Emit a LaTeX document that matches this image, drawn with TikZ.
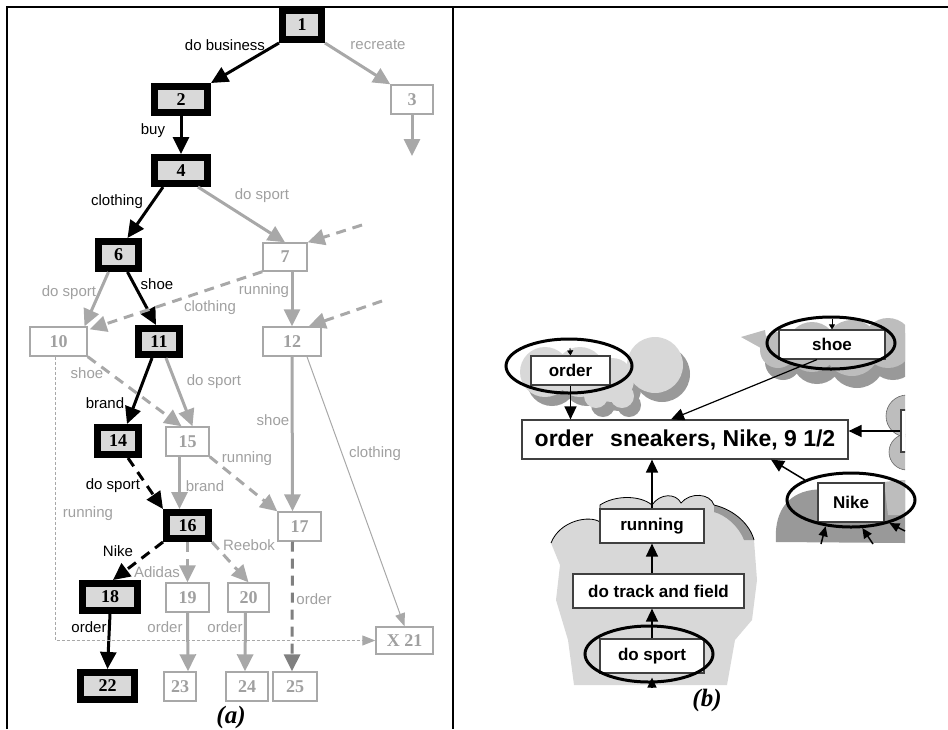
\documentclass[tikz,border=0pt]{standalone}
\usepackage{fontspec}
\setmainfont{Liberation Serif}
\setsansfont{Liberation Sans}
\usetikzlibrary{arrows.meta,calc,shapes.geometric}
\definecolor{lg}{HTML}{A8A8A8}
\definecolor{lt}{HTML}{A0A0A0}
\definecolor{bfill}{HTML}{D9D9D9}
\definecolor{cloudL}{HTML}{D8D8D8}
\definecolor{cloudD}{HTML}{999999}
\definecolor{cloudM}{HTML}{BDBDBD}
\tikzset{
 bbox/.style={draw=black, line width=7pt, fill=bfill, inner sep=0pt, font=\fontsize{18}{18}\selectfont\bfseries},
 gbox/.style={draw=lg, line width=1.4pt, fill=white, inner sep=0pt, text=lt, font=\fontsize{18}{18}\selectfont\bfseries},
 lab/.style={font=\sffamily\fontsize{15}{15}\selectfont, inner sep=0pt},
 blab/.style={lab, text=black},
 glab/.style={lab, text=lt},
 tip/.style={-{Triangle[length=17pt,width=16pt]}},
 bedge/.style={tip, line width=3pt, draw=black},
 gedge/.style={tip, line width=3pt, draw=lg},
 thinedge/.style={draw=lg, line width=1pt, -{Triangle[length=13pt,width=10pt]}},
 dsh/.style={dash pattern=on 10pt off 7pt},
 rbox/.style={draw=black!75, line width=1.2pt, fill=white, inner sep=0pt, font=\sffamily\bfseries\fontsize{17}{17}\selectfont},
 ell/.style={ellipse, draw=black, line width=3pt, inner sep=0pt},
 rtip/.style={-{Triangle[length=13pt,width=12pt]}, line width=1.5pt},
 stip/.style={-{Triangle[length=10pt,width=9pt]}, line width=1.5pt},
 ttip/.style={-{Triangle[length=5pt,width=6pt]}, line width=0.8pt},
 captxt/.style={font=\fontsize{25}{25}\selectfont\bfseries\itshape, inner sep=0pt},
}
\begin{document}
\begin{tikzpicture}[x=1pt,y=-1pt]
\useasboundingbox (0,0) rectangle (948,729);
% frame
\draw[line width=2.7pt] (7,729) -- (7,7) -- (948,7);
\draw[line width=2.2pt] (453,7) -- (453,729);

% ---------------- panel (a) ----------------
\node[bbox, minimum width=39, minimum height=29] (n1) at (302,25) {1};
\node[bbox, minimum width=53, minimum height=26] (n2) at (181,99.5) {2};
\node[gbox, minimum width=42, minimum height=29] (n3) at (412,99.5) {3};
\node[bbox, minimum width=53, minimum height=26] (n4) at (181,170.5) {4};
\node[bbox, minimum width=40, minimum height=27] (n6) at (118.5,255) {6};
\node[gbox, minimum width=44, minimum height=28] (n7) at (285,257) {7};
\node[gbox, minimum width=57, minimum height=29] (n10) at (58.5,341.5) {10};
\node[bbox, minimum width=41, minimum height=26] (n11) at (159,341.5) {11};
\node[gbox, minimum width=58, minimum height=29] (n12) at (292,341.5) {12};
\node[bbox, minimum width=41, minimum height=27] (n14) at (118,441) {14};
\node[gbox, minimum width=43, minimum height=29] (n15) at (187.5,441.5) {15};
\node[bbox, minimum width=42, minimum height=26] (n16) at (187.5,525.5) {16};
\node[gbox, minimum width=43, minimum height=29] (n17) at (299.5,526.5) {17};
\node[bbox, minimum width=55, minimum height=27] (n18) at (110,597) {18};
\node[gbox, minimum width=43, minimum height=29] (n19) at (187.5,597.5) {19};
\node[gbox, minimum width=41, minimum height=29] (n20) at (248.5,597.5) {20};
\node[gbox, minimum width=57, minimum height=27] (nX) at (404.5,640.5) {X 21};
\node[bbox, minimum width=54, minimum height=27] (n22) at (107.5,686) {22};
\node[gbox, minimum width=32, minimum height=29] (n23) at (180,686.5) {23};
\node[gbox, minimum width=42, minimum height=29] (n24) at (247,686.5) {24};
\node[gbox, minimum width=44, minimum height=29] (n25) at (295,686.5) {25};

\coordinate (c3) at (412,156);
\coordinate (c7) at (362,225);
\coordinate (c12) at (382,301);

\draw[bedge] (n1.south west) -- (n2.north east);
\draw[gedge] (n1.south east) -- (n3.north west);
\draw[gedge] (n3.south) -- (c3);
\draw[bedge] (n2.south) -- (n4.north);
\draw[bedge] ($(n4.south west)+(12,0)$) -- ($(n6.north)+(9,0)$);
\draw[gedge] ($(n4.south)+(17,0)$) -- (n7.north);
\draw[gedge,dsh] (c7) -- (n7.north east);
\draw[gedge] ($(n6.south)+(-10,0)$) -- ($(n10.north)+(26,0)$);
\draw[bedge] ($(n6.south)+(9,0)$) -- ($(n11.north)+(-3,0)$);
\draw[gedge,dsh] (n7.south west) -- ($(n10.north east)+(2,3)$);
\draw[gedge] ($(n7.south)+(7,0)$) -- (n12.north);
\draw[gedge,dsh] (c12) -- ($(n12.north east)+(-13,0)$);
\draw[gedge,dsh] (n10.south east) -- ($(n15.north)+(-6,0)$);
\draw[bedge] ($(n11.south)+(-7,0)$) -- ($(n14.north)+(9,0)$);
\draw[gedge] ($(n11.south)+(7,0)$) -- ($(n15.north)+(5,0)$);
\draw[gedge] (n12.south) -- ($(n17.north)+(-7,0)$);
\draw[thinedge] ($(n12.south)+(15,0)$) -- (nX.north);
\draw[bedge,dsh] ($(n14.south)+(10,0)$) -- (n16.north west);
\draw[gedge] ($(n15.south)+(-8,0)$) -- ($(n16.north)+(-8,0)$);
\draw[gedge,dsh] (n15.south east) -- (n17.north west);
\draw[bedge,dsh] (n16.south west) -- ($(n18.north)+(3,0)$);
\draw[gedge,dsh] (n16.south) -- (n19.north);
\draw[gedge,dsh] (n16.south east) -- (n20.north);
\draw[gedge,dsh,draw=black!50] ($(n17.south)+(-7,0)$) -- ($(n25.north)+(-3,0)$);
\draw[bedge] (n18.south) -- (n22.north);
\draw[gedge] (n19.south) -- ($(n23.north)+(8,0)$);
\draw[gedge] ($(n20.south)+(-3,0)$) -- ($(n24.north)+(-2,0)$);
\draw[thinedge, dash pattern=on 3pt off 2pt] ($(n10.south)+(-3,0)$) |- (nX.west);

% labels
\node[blab] (l1) at (225,45) {do business};
\node[glab] (l2) at (378,45) {recreate};
\node[blab] (l3) at (153,131) {buy};
\node[blab] (l4) at (117,202) {clothing};
\node[glab] (l5) at (262,196) {do sport};
\node[glab] (l6) at (69,293) {do sport};
\node[blab] (l7) at (157,284) {shoe};
\node[glab] (l8) at (264,291) {running};
\node[glab] (l9) at (210,308) {clothing};
\node[glab] (l10) at (87,373) {shoe};
\node[glab] (l11) at (214,382) {do sport};
\node[blab] (l12) at (105,403) {brand};
\node[glab] (l13) at (273,420) {shoe};
\node[glab] (l14) at (375,454) {clothing};
\node[glab] (l15) at (247,459) {running};
\node[blab] (l16) at (113,486) {do sport};
\node[glab] (l17) at (205,486) {brand};
\node[glab] (l18) at (88,514) {running};
\node[glab] (l19) at (249,545) {Reebok};
\node[blab] (l20) at (118,551) {Nike};
\node[glab] (l21) at (157,572) {Adidas};
\node[glab] (l22) at (314,599) {order};
\node[blab] (l23) at (89,627) {order};
\node[glab] (l24) at (165,627) {order};
\node[glab] (l25) at (225,627) {order};
\node[captxt] (capa) at (231,717) {(a)};

% ---------------- panel (b) ----------------
\begin{scope}
\clip (455,9) rectangle (905,729);
% order cloud
\foreach \x/\y/\r in {545/372/25, 580/372/25, 612/380/22, 655/365/28, 622/396/12, 596/396/12}
  \fill[fill=cloudD] (\x+7,\y+9) circle[radius=\r];
\foreach \x/\y/\r in {545/372/25, 580/372/25, 612/380/22, 655/365/28, 622/396/12, 596/396/12}
  \fill[fill=cloudL] (\x,\y) circle[radius=\r];
% shoe cloud
\foreach \x/\y/\r in {778/350/18, 812/347/25, 852/348/28, 888/343/25}
  \fill[fill=cloudD] (\x+5,\y+12) circle[radius=\r];
\foreach \x/\y/\r in {778/350/18, 812/347/25, 852/348/28, 888/343/25}
  \fill[fill=cloudM] (\x,\y) circle[radius=\r];
\fill[fill=cloudM] (741,337) -- (765,330) -- (768,352) -- cycle;
% right partial cloud
\filldraw[fill=cloudM, draw=black!60, line width=0.6pt] (907,416) circle[radius=21];
\filldraw[fill=cloudM, draw=black!60, line width=0.6pt] (907,452) circle[radius=18];
\node[rbox, minimum width=30, minimum height=42] (nR) at (916,431) {};
% Nike cloud
\fill[fill=cloudD] (776,542) .. controls (774,515) and (785,494) .. (812,490) -- (860,485) -- (905,480) -- (905,543) -- cycle;
\fill[fill=cloudM] (884,482) -- (905,480) -- (905,515) -- (888,515) -- cycle;
% big cloud
\fill[fill=cloudL] (551,543) .. controls (560,520) and (590,515) .. (600,522) -- (600,505)
  .. controls (615,495) and (640,495) .. (652,505)
  .. controls (660,493) and (676,493) .. (681,503)
  .. controls (690,492) and (710,493) .. (714,505)
  .. controls (735,510) and (750,525) .. (754,540)
  -- (757,580) -- (752,620) -- (735,640) -- (727,685) -- (574,685) -- (568,640) -- (556,600) -- (560,565) -- cycle;
\fill[fill=cloudD] (714,505) .. controls (735,510) and (750,525) .. (754,540) -- (744,540) .. controls (738,525) and (725,515) .. (714,512) -- cycle;
\draw[line width=0.8pt] (551,543) .. controls (560,520) and (590,515) .. (600,522) -- (600,505)
  .. controls (615,495) and (640,495) .. (652,505)
  .. controls (660,493) and (676,493) .. (681,503)
  .. controls (690,492) and (710,493) .. (714,505)
  .. controls (735,510) and (750,525) .. (754,540);
\end{scope}

\node[rbox, minimum width=326, minimum height=39, font=\sffamily\bfseries\fontsize{23}{23}\selectfont] (nbig) at (685,439.5) {order\hspace{0.45em} sneakers, Nike, 9 1/2};
\node[rbox, minimum width=79, minimum height=29] (norder) at (570.5,370.5) {order};
\node[rbox, minimum width=106, minimum height=29] (nshoe) at (832,344.5) {shoe};
\node[rbox, minimum width=66, minimum height=39] (nnike) at (851,502.5) {Nike};
\node[rbox, minimum width=104, minimum height=34] (nrun) at (652,526) {running};
\node[rbox, minimum width=171, minimum height=34] (ntrack) at (658.5,591) {do track and field};
\node[rbox, minimum width=104, minimum height=34] (nsport) at (652,656) {do sport};

\node[ell, minimum width=126, minimum height=54] (eorder) at (569,366) {};
\node[ell, minimum width=128, minimum height=52] (eshoe) at (831,343) {};
\node[ell, minimum width=128, minimum height=54] (enike) at (851,500) {};
\node[ell, minimum width=128, minimum height=56] (esport) at (649,654) {};

\coordinate (co) at (570,348);
\coordinate (cs) at (832,319);
\coordinate (csp) at (652,688);
\coordinate (k1) at (821,544);
\coordinate (k2) at (873,544);
\coordinate (k3) at (905,531);

\draw[ttip] (co) -- (norder.north);
\draw[ttip] (cs) -- (nshoe.north);
\draw[rtip] (norder.south) -- (norder.south |- nbig.north);
\draw[rtip, line width=1.2pt] ($(nshoe.south)+(-15,0)$) -- ($(nbig.north)+(-14,0)$);
\draw[rtip] (nR.west) -- (nR.west -| nbig.east);
\draw[rtip] (enike.north west) -- ($(nbig.south)+(86,0)$);
\draw[rtip] (nrun.north) -- (nrun.north |- nbig.south);
\draw[rtip] (nrun.south |- ntrack.north) -- (nrun.south);
\draw[rtip] (nsport.north) -- (nsport.north |- ntrack.south);
\draw[stip] (csp) -- ($(nsport.south)+(0,4)$);
\draw[stip] (k1) -- (enike.226);
\draw[stip] (k2) -- (enike.292);
\draw[stip] (k3) -- (enike.329);

\node[captxt] (capb) at (707,700) {(b)};
\end{tikzpicture}
\end{document}
